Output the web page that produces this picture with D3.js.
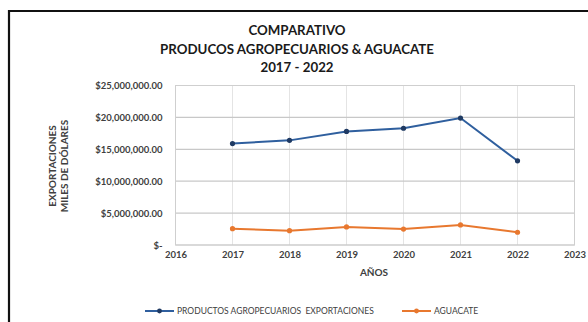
<!DOCTYPE html>
<html><head><meta charset="utf-8">
<script src="https://cdn.jsdelivr.net/npm/d3@7"></script>
<style>
html,body{margin:0;padding:0;background:#fff;}
svg{display:block;font-family:Lato,"Liberation Sans",Arial,sans-serif;}
</style></head>
<body>
<svg id="c" width="588" height="322"></svg>
<script>
const years = [2017, 2018, 2019, 2020, 2021, 2022];
const agro = [15900000, 16400000, 17800000, 18300000, 19900000, 13200000];
const aguacate = [2560000, 2250000, 2830000, 2500000, 3140000, 2000000];
const yTicks = [0, 5000000, 10000000, 15000000, 20000000, 25000000];
const xTicks = [2016, 2017, 2018, 2019, 2020, 2021, 2022, 2023];
const titleLines = ["COMPARATIVO", "PRODUCOS AGROPECUARIOS & AGUACATE", "2017 - 2022"];
const seriesNames = ["PRODUCTOS AGROPECUARIOS  EXPORTACIONES", "AGUACATE"];

const svg = d3.select("#c");
const blue = "#2f5f9e", blueMark = "#1f3a63", orange = "#e8782f";
const FONT = "Lato, Liberation Sans, Arial, sans-serif";

// outer frame
svg.append("path").attr("d","M9,330 L9,11 L600,11").attr("fill","none").attr("stroke","#111").attr("stroke-width",2.2);

const x = d3.scaleLinear().domain([2016, 2023]).range([175.5, 574.5]);
const y = d3.scaleLinear().domain([0, 25000000]).range([245, 85.5]);

// title
svg.append("g").selectAll("text").data(titleLines).join("text")
  .attr("x", 297).attr("y", (d,i)=>35 + i*18.5)
  .attr("text-anchor","middle").attr("font-size",13.3).attr("font-weight","bold").attr("fill","#1a1a1a")
  .style("white-space","pre")
  .text(d=>d);

// vertical gridlines
svg.append("g").selectAll("line").data(xTicks.slice(1,-1)).join("line")
  .attr("x1",d=>x(d)).attr("x2",d=>x(d)).attr("y1",y(25000000)).attr("y2",y(0))
  .attr("stroke","#e4e4e4").attr("stroke-width",1);

// horizontal gridlines
svg.append("g").selectAll("line").data(yTicks).join("line")
  .attr("x1",x(2016)).attr("x2",x(2023)).attr("y1",d=>y(d)).attr("y2",d=>y(d))
  .attr("stroke","#c8c8c8").attr("stroke-width",1.2);

// plot border
svg.append("rect").attr("x",x(2016)).attr("y",y(25000000)).attr("width",x(2023)-x(2016)).attr("height",y(0)-y(25000000))
  .attr("fill","none").attr("stroke","#cfcfcf").attr("stroke-width",1);

// y axis
const fmt = d => d === 0 ? "$-" : "$" + d3.format(",.2f")(d);
const yAxis = d3.axisLeft(y).tickValues(yTicks).tickFormat(fmt).tickSize(0).tickPadding(13);
const ya = svg.append("g").attr("transform",`translate(${x(2016)},0)`).call(yAxis);
ya.select(".domain").remove();
ya.selectAll("text").attr("font-size",9.5).attr("font-weight","bold").attr("fill","#404040")
  .attr("font-family",FONT);

// x axis
const xAxis = d3.axisBottom(x).tickValues(xTicks).tickFormat(d3.format("d")).tickSize(0).tickPadding(6);
const xa = svg.append("g").attr("transform",`translate(0,${y(0)})`).call(xAxis);
xa.select(".domain").remove();
xa.selectAll("text").attr("font-size",9.5).attr("font-weight","bold").attr("fill","#404040")
  .attr("font-family",FONT);

// axis titles
svg.append("text").attr("x",374).attr("y",276).attr("text-anchor","middle")
  .attr("font-size",10).attr("font-weight","bold").attr("fill","#404040").text("AÑOS");
const yt = svg.append("text").attr("transform","translate(59,166) rotate(-90)").attr("text-anchor","middle")
  .attr("font-size",10).attr("font-weight","bold").attr("fill","#404040");
yt.append("tspan").attr("x",0).attr("dy",-3).text("EXPORTACIONES");
yt.append("tspan").attr("x",0).attr("dy",12).text("MILES DE DÓLARES");

// lines
const line = d3.line().x((d,i)=>x(years[i])).y(d=>y(d));
svg.append("path").datum(agro).attr("d",line).attr("fill","none").attr("stroke",blue).attr("stroke-width",2);
svg.append("g").selectAll("circle").data(agro).join("circle")
  .attr("cx",(d,i)=>x(years[i])).attr("cy",d=>y(d)).attr("r",2.6).attr("fill",blueMark);
svg.append("path").datum(aguacate).attr("d",line).attr("fill","none").attr("stroke",orange).attr("stroke-width",2);
svg.append("g").selectAll("circle").data(aguacate).join("circle")
  .attr("cx",(d,i)=>x(years[i])).attr("cy",d=>y(d)).attr("r",2.6).attr("fill",orange);

// legend
const legend = [{x:145, color:blue, mark:blueMark, name:seriesNames[0]},{x:402, color:orange, mark:orange, name:seriesNames[1]}];
const lg = svg.append("g").selectAll("g").data(legend).join("g").attr("transform",d=>`translate(${d.x},311)`);
lg.append("line").attr("x1",0).attr("x2",29).attr("stroke",d=>d.color).attr("stroke-width",2);
lg.append("circle").attr("cx",14.5).attr("r",2.4).attr("fill",d=>d.mark);
lg.append("text").attr("x",32).attr("y",3).attr("font-size",8.5).attr("fill","#404040")
  .style("white-space","pre").text(d=>d.name);
</script>
</body></html>
